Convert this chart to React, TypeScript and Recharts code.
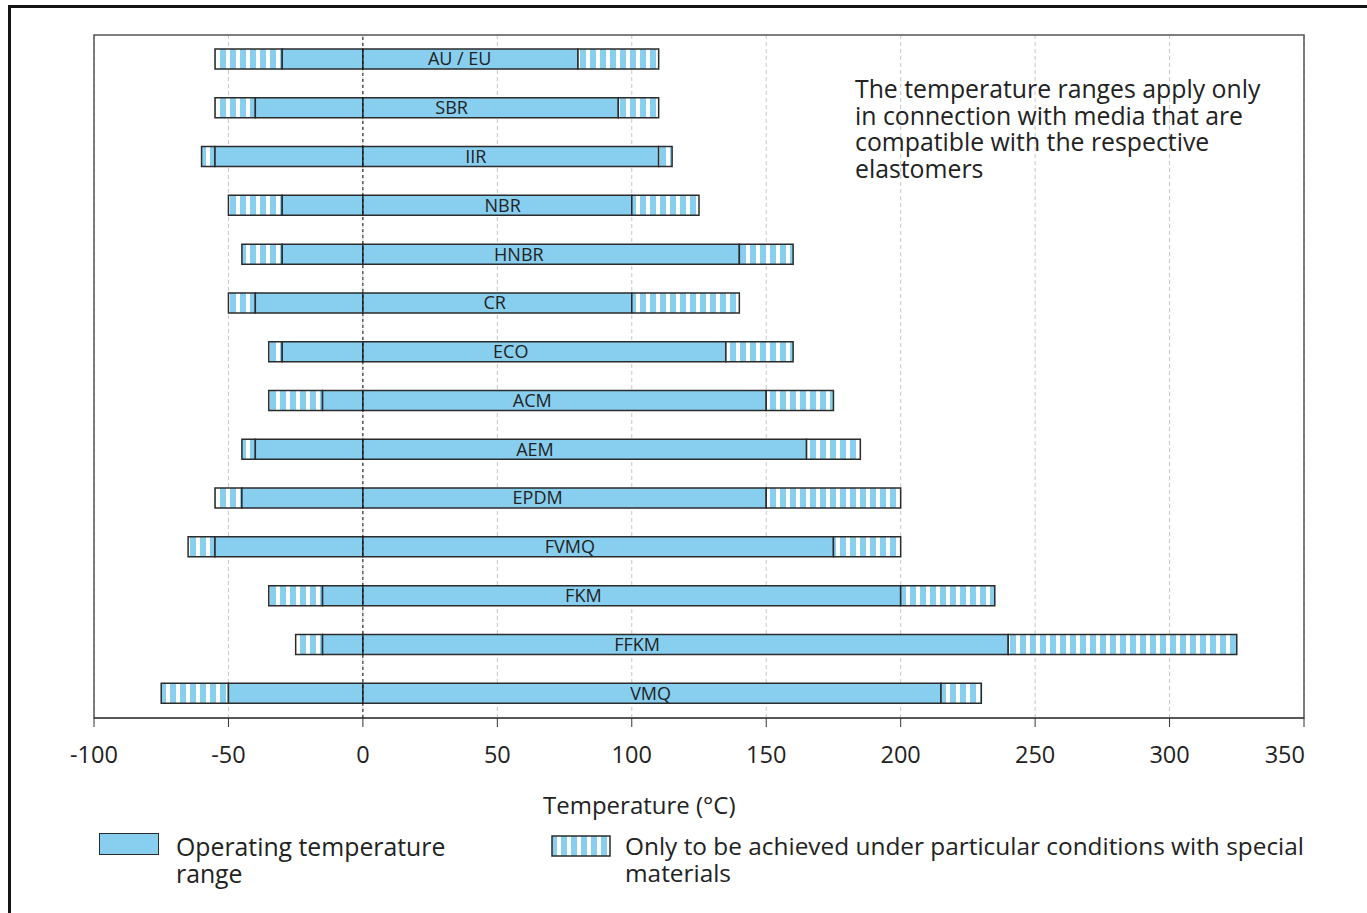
import React from 'react';
import { ComposedChart, Bar, Scatter, XAxis, YAxis, CartesianGrid, ReferenceLine, ReferenceArea } from 'recharts';

// elastomers, top to bottom
const materials = ['AU / EU', 'SBR', 'IIR', 'NBR', 'HNBR', 'CR', 'ECO', 'ACM', 'AEM', 'EPDM', 'FVMQ', 'FKM', 'FFKM', 'VMQ'];
// lowest temperature with special materials
const specialLow = [-55, -55, -60, -50, -45, -50, -35, -35, -45, -55, -65, -35, -25, -75];
// normal operating range
const operatingLow = [-30, -40, -55, -30, -30, -40, -30, -15, -40, -45, -55, -15, -15, -50];
const operatingHigh = [80, 95, 110, 100, 140, 100, 135, 150, 165, 150, 175, 200, 240, 215];
// highest temperature with special materials
const specialHigh = [110, 110, 115, 125, 160, 140, 160, 175, 185, 200, 200, 235, 325, 230];
// where the name sits inside the bar (°C)
const labelAt = [36, 33, 42, 52, 58, 49, 55, 63, 64, 65, 77, 82, 102, 107];

const xTicks = [-100, -50, 0, 50, 100, 150, 200, 250, 300, 350];

const rows = materials.map((name, i) => ({
  name,
  lowSpecial: [specialLow[i], operatingLow[i]],
  lowOp: [operatingLow[i], 0],
  highOp: [0, operatingHigh[i]],
  highSpecial: [operatingHigh[i], specialHigh[i]],
  labelAt: labelAt[i],
}));

const BLUE = '#88CFEF';
const INK = '#222';
const FONT = '"Open Sans", sans-serif';

const NameLabel = (props: any) => {
  const { cx, cy, payload } = props;
  return (
    <text x={cx} y={cy} dy={6} textAnchor="middle" fontSize={18} fill={INK} fontFamily={FONT}>
      {payload.name}
    </text>
  );
};

// last tick label sits left of its tick so it stays inside the frame
const TempTick = (props: any) => {
  const { x, y, payload } = props;
  const last = payload.value === xTicks[xTicks.length - 1];
  return (
    <text x={last ? x + 1 : x} y={y} dy={16} textAnchor={last ? 'end' : 'middle'} fontSize={23.5} fill={INK} fontFamily={FONT}>
      {payload.value}
    </text>
  );
};

const textStyle: React.CSSProperties = {
  position: 'absolute',
  fontFamily: FONT,
  fontSize: 24.8,
  lineHeight: '26.5px',
  color: INK,
  whiteSpace: 'nowrap',
};

export default function App() {
  const barProps = { barSize: 20, stroke: '#2b2b2b', strokeWidth: 1.5, isAnimationActive: false };
  return (
    <div style={{ position: 'relative', width: 1367, height: 913, background: '#fff', overflow: 'hidden' }}>
      <style>{'body{margin:0}'}</style>
      <svg width={0} height={0} style={{ position: 'absolute' }}>
        <defs>
          <pattern id="stripes" patternUnits="userSpaceOnUse" width={10} height={10}>
            <rect x={0} y={0} width={10} height={10} fill="#fff" />
            <rect x={0} y={0} width={6} height={10} fill={BLUE} />
          </pattern>
        </defs>
      </svg>
      <div style={{ position: 'absolute', left: 8, top: 5, right: -10, bottom: -10, borderTop: '3px solid #151515', borderLeft: '3px solid #151515' }} />
      <div style={{ position: 'absolute', left: 0, top: 0 }}>
        <ComposedChart
          width={1367}
          height={790}
          layout="vertical"
          data={rows}
          margin={{ top: 35, right: 63, bottom: 0, left: 94 }}
          barGap={-20}
        >
          <CartesianGrid horizontal={false} vertical={true} stroke="#c8c8c8" strokeDasharray="4 3" />
          <ReferenceArea x1={-100} x2={350} fill="none" stroke="#555" strokeWidth={1.5} ifOverflow="extendDomain" />
          <XAxis
            type="number"
            domain={[-100, 350]}
            ticks={xTicks}
            interval={0}
            height={72}
            tickSize={9}
            tickMargin={20}
            stroke="#333"
            tick={<TempTick />}
          />
          <YAxis type="category" dataKey="name" hide />
          <ReferenceLine x={0} stroke="#111" strokeDasharray="3 3" />
          <Bar dataKey="lowSpecial" fill="url(#stripes)" {...barProps} />
          <Bar dataKey="lowOp" fill={BLUE} {...barProps} />
          <Bar dataKey="highOp" fill={BLUE} {...barProps} />
          <Bar dataKey="highSpecial" fill="url(#stripes)" {...barProps} />
          <Scatter dataKey="labelAt" shape={<NameLabel />} isAnimationActive={false} />
        </ComposedChart>
      </div>
      <div style={{ ...textStyle, left: 855, top: 75 }}>
        The temperature ranges apply only<br />
        in connection with media that are<br />
        compatible with the respective<br />
        elastomers
      </div>
      <div style={{ ...textStyle, fontSize: 24, left: 543, top: 792 }}>Temperature (°C)</div>
      <div style={{ position: 'absolute', left: 99, top: 833, width: 58, height: 20, background: BLUE, border: '1.5px solid #2b2b2b' }} />
      <div style={{ ...textStyle, left: 176, top: 833 }}>
        Operating temperature<br />
        range
      </div>
      <svg style={{ position: 'absolute', left: 551, top: 835 }} width={61} height={23}>
        <rect x={1} y={1} width={58} height={20} fill="url(#stripes)" stroke="#2b2b2b" strokeWidth={1.5} />
      </svg>
      <div style={{ ...textStyle, fontSize: 24.4, left: 625, top: 833 }}>
        Only to be achieved under particular conditions with special<br />
        materials
      </div>
    </div>
  );
}
